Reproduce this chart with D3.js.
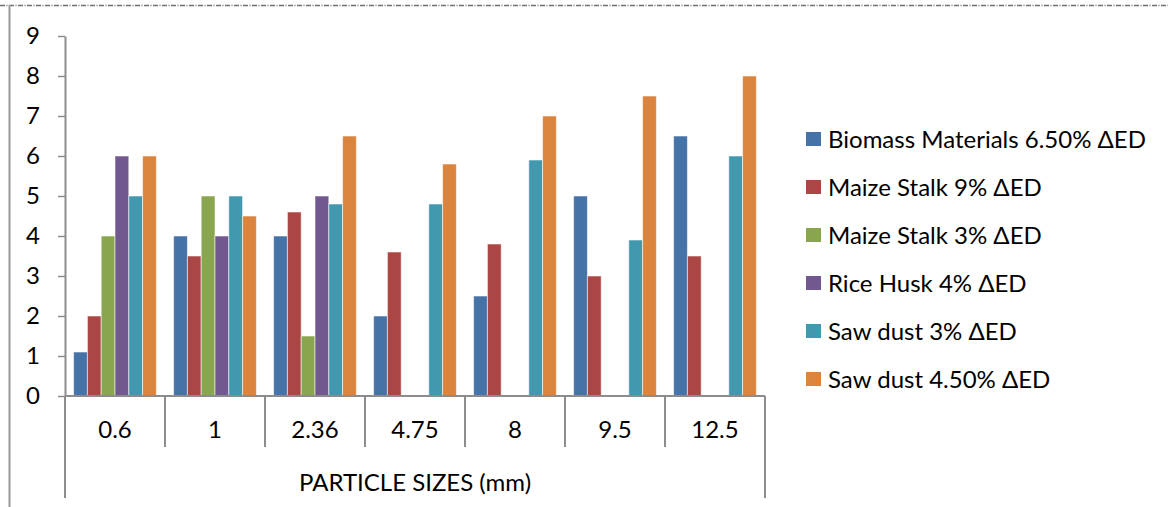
<!DOCTYPE html>
<html>
<head>
<meta charset="utf-8">
<script src="https://cdn.jsdelivr.net/npm/d3@7"></script>
<style>
  html, body { margin: 0; padding: 0; background: #fff; }
  svg { display: block; font-family: Lato, "Open Sans", sans-serif; }
</style>
</head>
<body>
<svg id="chart" width="1168" height="507"></svg>
<script>
// Particle size categories (mm)
const categories = ["0.6", "1", "2.36", "4.75", "8", "9.5", "12.5"];

// Series names as shown in the legend
const seriesNames = [
  "Biomass Materials 6.50% \u0394ED",
  "Maize Stalk 9% \u0394ED",
  "Maize Stalk 3% \u0394ED",
  "Rice Husk 4% \u0394ED",
  "Saw dust 3% \u0394ED",
  "Saw dust 4.50% \u0394ED"
];

// Values per series, one per category (null = no bar)
const biomass65 = [1.1, 4, 4, 2, 2.5, 5, 6.5];
const maize9    = [2, 3.5, 4.6, 3.6, 3.8, 3, 3.5];
const maize3    = [4, 5, 1.5, null, null, null, null];
const riceHusk4 = [6, 4, 5, null, null, null, null];
const sawdust3  = [5, 5, 4.8, 4.8, 5.9, 3.9, 6];
const sawdust45 = [6, 4.5, 6.5, 5.8, 7, 7.5, 8];

const yTicks = [0, 1, 2, 3, 4, 5, 6, 7, 8, 9];
const axisTitle = "PARTICLE SIZES (mm)";

const seriesValues = [biomass65, maize9, maize3, riceHusk4, sawdust3, sawdust45];
const colors = ["#4572A7", "#AA4643", "#89A54E", "#71588F", "#4198AF", "#DB843D"];

const svg = d3.select("#chart");
const axisColor = "#8c8c8c";
const fontSize = 24;

// Plot area
const plotL = 65, plotR = 765, plotT = 36, plotB = 396;

const x0 = d3.scaleBand().domain(categories).range([plotL, plotR]).paddingInner(0).paddingOuter(0);
const x1 = d3.scaleBand().domain(d3.range(seriesNames.length)).range([0, x0.bandwidth()]).paddingInner(0).paddingOuter(0.625);
const y = d3.scaleLinear().domain([0, 9]).range([plotB, plotT]);

// Outer frame: dashed top edge and solid left edge
svg.append("line")
  .attr("x1", 0).attr("x2", 1168).attr("y1", 5.5).attr("y2", 5.5)
  .attr("stroke", "#6d7078").attr("stroke-width", 1.5)
  .attr("stroke-dasharray", "5,1.5,1,1.5");
svg.append("line")
  .attr("x1", 9.5).attr("x2", 9.5).attr("y1", 5).attr("y2", 507)
  .attr("stroke", "#9a9a9a").attr("stroke-width", 2);

// Bars
const groups = svg.append("g").selectAll("g")
  .data(categories)
  .join("g")
  .attr("transform", d => `translate(${x0(d)},0)`);

groups.selectAll("rect")
  .data((c, ci) => seriesValues.map((vals, si) => ({ si, v: vals[ci] })).filter(d => d.v != null))
  .join("rect")
  .attr("x", d => x1(d.si))
  .attr("width", x1.bandwidth())
  .attr("y", d => y(d.v))
  .attr("height", d => y(0) - y(d.v))
  .attr("fill", d => colors[d.si])
  .attr("stroke", "rgba(255,255,255,0.55)")
  .attr("stroke-width", 1);

// Y axis
const yAxis = svg.append("g")
  .attr("transform", `translate(${plotL},0)`)
  .call(d3.axisLeft(y).tickValues(yTicks).tickSize(7).tickPadding(18).tickSizeOuter(0));
yAxis.select(".domain").attr("stroke", axisColor).attr("stroke-width", 2);
yAxis.selectAll(".tick line").attr("stroke", axisColor).attr("stroke-width", 1.5);
yAxis.selectAll(".tick text")
  .attr("fill", "#000").attr("font-size", fontSize).attr("font-family", "Lato, sans-serif");

// X axis baseline
svg.append("line")
  .attr("x1", plotL).attr("x2", plotR).attr("y1", plotB).attr("y2", plotB)
  .attr("stroke", axisColor).attr("stroke-width", 2);

// Category separators: inner ones short, outer ones reach the axis title row
const boundaries = categories.map(c => x0(c)).concat([x0(categories[categories.length - 1]) + x0.bandwidth()]);
svg.append("g").selectAll("line")
  .data(boundaries)
  .join("line")
  .attr("x1", d => d).attr("x2", d => d)
  .attr("y1", plotB)
  .attr("y2", (d, i) => (i === 0 || i === boundaries.length - 1) ? 498 : 447)
  .attr("stroke", axisColor).attr("stroke-width", 2);

// Category labels
svg.append("g").selectAll("text")
  .data(categories)
  .join("text")
  .attr("x", d => x0(d) + x0.bandwidth() / 2)
  .attr("y", 438)
  .attr("text-anchor", "middle")
  .attr("font-size", fontSize)
  .attr("fill", "#000")
  .text(d => d);

// Axis title
svg.append("text")
  .attr("x", (plotL + plotR) / 2)
  .attr("y", 491)
  .attr("text-anchor", "middle")
  .attr("font-size", fontSize)
  .attr("fill", "#000")
  .text(axisTitle);

// Legend
const legend = svg.append("g").selectAll("g")
  .data(seriesNames)
  .join("g")
  .attr("transform", (d, i) => `translate(806,${139 + i * 48})`);
legend.append("rect")
  .attr("x", 0).attr("y", -7).attr("width", 15).attr("height", 14)
  .attr("fill", (d, i) => colors[i]);
legend.append("text")
  .attr("x", 22).attr("y", 8.5)
  .attr("font-size", fontSize)
  .attr("fill", "#000")
  .text(d => d);
</script>
</body>
</html>
